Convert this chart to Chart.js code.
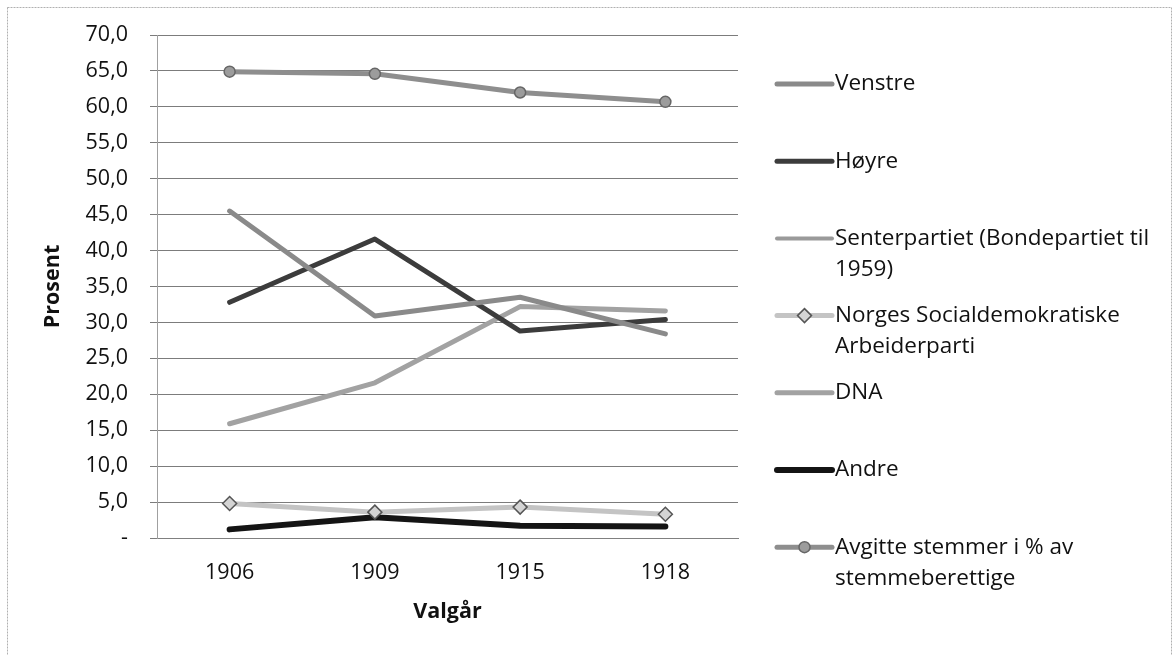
<!DOCTYPE html>
<html>
<head>
<meta charset="utf-8">
<script src="https://cdn.jsdelivr.net/npm/chart.js@4/dist/chart.umd.min.js"></script>
<style>
html,body{margin:0;padding:0;background:#fff;}
canvas{display:block;}
</style>
</head>
<body>
<canvas id="c" width="1176" height="655"></canvas>
<script>
const years = ['1906', '1909', '1915', '1918'];
const venstre = [45.5, 30.9, 33.5, 28.4];
const hoyre = [32.8, 41.6, 28.8, 30.4];
const senterpartiet = [null, null, null, null];
const socialdemokratiske = [4.8, 3.6, 4.3, 3.3];
const dna = [15.9, 21.6, 32.2, 31.6];
const andre = [1.2, 2.9, 1.7, 1.6];
const avgitte = [64.9, 64.6, 62.0, 60.7];
const legendLines = [
  ['Venstre'],
  ['Høyre'],
  ['Senterpartiet (Bondepartiet til', '1959)'],
  ['Norges Socialdemokratiske', 'Arbeiderparti'],
  ['DNA'],
  ['Andre'],
  ['Avgitte stemmer i % av', 'stemmeberettige']
];
const yTicks = [0, 5, 10, 15, 20, 25, 30, 35, 40, 45, 50, 55, 60, 65, 70];

const FONT = '"Open Sans", Lato, sans-serif';
const FS = 21.5;
const LFS = 22.5;

const legendPlugin = {
  id: 'sideLegend',
  afterDraw(chart) {
    const ctx = chart.ctx;
    ctx.save();
    ctx.strokeStyle = '#b0b0b0';
    ctx.lineWidth = 1;
    ctx.setLineDash([2, 1]);
    ctx.strokeRect(7.5, 7.5, 1164, 700);
    ctx.setLineDash([]);
    const x0 = 777, x1 = 832, tx = 835;
    const top = 84, step = 77.2, lh = 31;
    chart.data.datasets.forEach((ds, i) => {
      const y = top + i * step;
      ctx.strokeStyle = ds.borderColor;
      ctx.lineWidth = ds.borderWidth;
      ctx.lineCap = 'round';
      ctx.beginPath();
      ctx.moveTo(x0, y);
      ctx.lineTo(x1, y);
      ctx.stroke();
      if (ds.pointRadius > 0) {
        ctx.fillStyle = ds.pointBackgroundColor;
        ctx.strokeStyle = ds.pointBorderColor;
        ctx.lineWidth = ds.pointBorderWidth;
        const cx = (x0 + x1) / 2, r = ds.pointRadius;
        ctx.beginPath();
        if (ds.pointStyle === 'rectRot') {
          ctx.moveTo(cx, y - r); ctx.lineTo(cx + r, y); ctx.lineTo(cx, y + r); ctx.lineTo(cx - r, y); ctx.closePath();
        } else {
          ctx.arc(cx, y, r, 0, Math.PI * 2);
        }
        ctx.fill();
        ctx.stroke();
      }
      ctx.fillStyle = '#111';
      ctx.font = LFS + 'px ' + FONT;
      ctx.textBaseline = 'middle';
      ctx.textAlign = 'left';
      legendLines[i].forEach((t, k) => ctx.fillText(t, tx, y + k * lh));
    });
    ctx.restore();
  }
};

new Chart(document.getElementById('c'), {
  type: 'line',
  data: {
    labels: years,
    datasets: [
      { label: legendLines[0].join(' '), data: venstre, borderColor: '#8a8a8a', borderWidth: 5, pointRadius: 0, pointStyle: 'circle' },
      { label: legendLines[1].join(' '), data: hoyre, borderColor: '#3c3c3c', borderWidth: 5, pointRadius: 0, pointStyle: 'circle' },
      { label: legendLines[2].join(' '), data: senterpartiet, borderColor: '#9a9a9a', borderWidth: 4, pointRadius: 0, pointStyle: 'circle' },
      { label: legendLines[3].join(' '), data: socialdemokratiske, borderColor: '#c4c4c4', borderWidth: 5, pointRadius: 7, pointStyle: 'rectRot', pointBackgroundColor: '#d4d4d4', pointBorderColor: '#555', pointBorderWidth: 1.5 },
      { label: legendLines[4].join(' '), data: dna, borderColor: '#a2a2a2', borderWidth: 5, pointRadius: 0, pointStyle: 'circle' },
      { label: legendLines[5].join(' '), data: andre, borderColor: '#141414', borderWidth: 6, pointRadius: 0, pointStyle: 'circle' },
      { label: legendLines[6].join(' '), data: avgitte, borderColor: '#8e8e8e', borderWidth: 5, pointRadius: 5.5, pointStyle: 'circle', pointBackgroundColor: '#9c9c9c', pointBorderColor: '#666', pointBorderWidth: 1.5 }
    ]
  },
  options: {
    responsive: false,
    animation: false,
    devicePixelRatio: 1,
    layout: { padding: { left: 0, top: 35, right: 438, bottom: 0 } },
    elements: { line: { tension: 0, borderCapStyle: 'round', borderJoinStyle: 'round' } },
    plugins: { legend: { display: false }, tooltip: { enabled: false } },
    scales: {
      x: {
        offset: true,
        afterFit(s) { s.height = 117; },
        grid: { display: false, drawTicks: false },
        border: { display: true, color: '#808080', width: 1 },
        ticks: { color: '#111', padding: 22, font: { family: FONT, size: FS } },
        title: { display: true, text: 'Valgår', color: '#111', font: { family: FONT, size: FS, weight: 'bold', lineHeight: 1.2 }, padding: { top: 0, bottom: 30 } }
      },
      y: {
        min: 0, max: 70,
        afterFit(s) { s.width = 157; },
        afterBuildTicks(s) { s.ticks = yTicks.map(v => ({ value: v })); },
        grid: { color: '#7c7c7c', lineWidth: 1, tickLength: 7, drawTicks: true },
        border: { display: true, color: '#a0a0a0', width: 1 },
        ticks: {
          color: '#111', padding: 22, font: { family: FONT, size: FS },
          callback: v => v === 0 ? '-' : v.toFixed(1).replace('.', ',')
        },
        title: { display: true, text: 'Prosent', color: '#111', font: { family: FONT, size: FS, weight: 'bold', lineHeight: 1.2 }, padding: { top: 40, bottom: 0 } }
      }
    }
  },
  plugins: [legendPlugin]
});
</script>
</body>
</html>
